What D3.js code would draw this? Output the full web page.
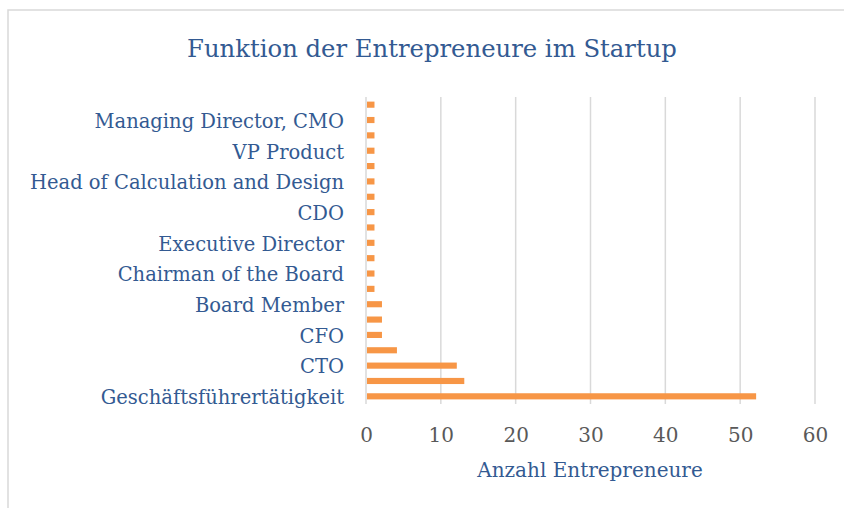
<!DOCTYPE html>
<html>
<head>
  <meta charset="utf-8">
  <script src="https://cdn.jsdelivr.net/npm/d3@7"></script>
  <style>
    body { margin: 0; background: #fff; }
    text { font-family: "DejaVu Serif", serif; }
  </style>
</head>
<body>
<script>
// roles, bottom to top. Only every other one gets a label, like in the original.
// The original hides the names of the unlabelled bars (CEO, COO, Founder, ...),
// so those are placeholders; they are never drawn.
var roles = ["Geschäftsführertätigkeit", "CEO", "CTO", "COO", "CFO", "Founder",
  "Board Member", "Co-Founder", "Chairman of the Board", "President",
  "Executive Director", "Partner", "CDO", "CMO", "Head of Calculation and Design",
  "Head of Sales", "VP Product", "CIO", "Managing Director, CMO", "Vorstand"];
var counts = [52, 13, 12, 4, 2, 2, 2, 1, 1, 1, 1, 1, 1, 1, 1, 1, 1, 1, 1, 1];
var xTicks = [0, 10, 20, 30, 40, 50, 60];

(function () {
  var W = 844, H = 508;
  var pLeft = 366, pRight = 815, pTop = 97, pBottom = 404;
  var blue = "#335a92";

  var svg = d3.select("body").append("svg").attr("width", W).attr("height", H);

  // chart frame
  svg.append("rect").attr("x", 8).attr("y", 10).attr("width", W).attr("height", H)
    .attr("fill", "none").attr("stroke", "#d9d9d9").attr("stroke-width", 1.5);

  var x = d3.scaleLinear().domain([0, 60]).range([pLeft, pRight]);
  var y = d3.scaleBand().domain(roles).range([pBottom, pTop]).paddingInner(0.6).paddingOuter(0.3);

  // gridlines
  svg.append("g").selectAll("line").data(xTicks).enter().append("line")
    .attr("x1", d => x(d)).attr("x2", d => x(d))
    .attr("y1", pTop).attr("y2", pBottom)
    .attr("stroke", "#d9d9d9").attr("stroke-width", 1.5);

  // bars
  svg.append("g").selectAll("rect").data(roles).enter().append("rect")
    .attr("x", x(0) + 1)
    .attr("y", d => y(d))
    .attr("width", (d, i) => x(counts[i]) - x(0))
    .attr("height", y.bandwidth())
    .attr("fill", "#f79646");

  // y labels
  var yAxis = d3.axisLeft(y).tickSize(0).tickPadding(22)
    .tickFormat((d, i) => i % 2 === 0 ? d : "");
  var gy = svg.append("g").attr("transform", "translate(" + x(0) + ",0)").call(yAxis);
  gy.select(".domain").remove();
  gy.selectAll("text").attr("fill", blue).style("font-size", "19.5px")
    .style("font-family", "DejaVu Serif").attr("dy", "0.4em");

  // x labels
  var xAxis = d3.axisBottom(x).tickValues(xTicks).tickSize(0).tickPadding(24);
  var gx = svg.append("g").attr("transform", "translate(0," + pBottom + ")").call(xAxis);
  gx.select(".domain").remove();
  gx.selectAll("text").attr("fill", "#595959").style("font-size", "20px")
    .style("font-family", "DejaVu Serif");

  svg.append("text").attr("x", 590).attr("y", 477)
    .attr("text-anchor", "middle").attr("fill", blue).style("font-size", "20px")
    .text("Anzahl Entrepreneure");

  svg.append("text").attr("x", 432).attr("y", 57)
    .attr("text-anchor", "middle").attr("fill", blue).style("font-size", "24.3px")
    .text("Funktion der Entrepreneure im Startup");
})();
</script>
</body>
</html>
